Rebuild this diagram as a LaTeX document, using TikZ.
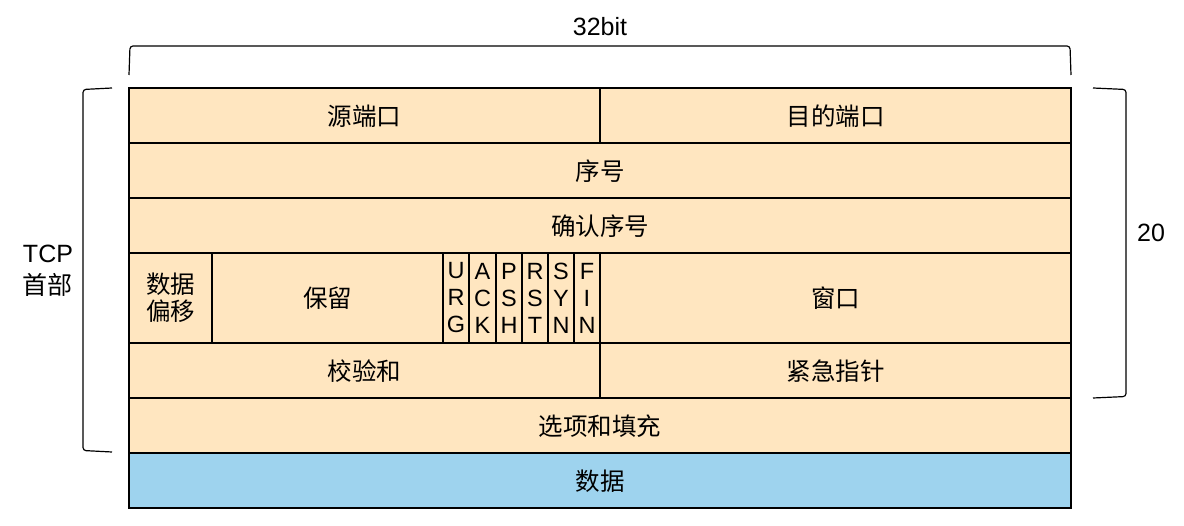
\documentclass[tikz,border=0pt]{standalone}
\usepackage{fontspec}
\setmainfont{Liberation Sans}
\newfontfamily\cjk{Noto Sans CJK SC}
\begin{document}
\begin{tikzpicture}[x=1pt,y=-1pt,
  field/.style={draw=black,line width=1.2pt,fill=hdr},
  datafield/.style={draw=black,line width=1.2pt,fill=dat},
  lbl/.style={font=\fontsize{24.5}{27}\selectfont\cjk,align=center,inner sep=0pt},
  flag/.style={font=\fontsize{23.5}{27}\selectfont,align=center,inner sep=0pt},
  side/.style={font=\fontsize{25}{32}\selectfont,align=center,inner sep=0pt},
  brace/.style={draw=black,line width=1.2pt,rounded corners=3pt}]
\definecolor{hdr}{HTML}{FFE6C0}
\definecolor{dat}{HTML}{9ED3EE}
\useasboundingbox (0,0) rectangle (1184,526);
% rows
\draw[field] (129,88) rectangle (600,143);
\draw[field] (600,88) rectangle (1071,143);
\draw[field] (129,143) rectangle (1071,198);
\draw[field] (129,198) rectangle (1071,253);
\draw[field] (129,253) rectangle (212,343);
\draw[field] (212,253) rectangle (443,343);
\foreach \a/\b in {443/469,469/496,496/522,522/548,548/574,574/600}{
  \draw[field] (\a,253) rectangle (\b,343);}
\draw[field] (600,253) rectangle (1071,343);
\draw[field] (129,343) rectangle (600,398);
\draw[field] (600,343) rectangle (1071,398);
\draw[field] (129,398) rectangle (1071,453);
\draw[datafield] (129,453) rectangle (1071,508);
% labels
\node[lbl] (src) at (364.5,116) {源端口};
\node[lbl] (dst) at (835.5,116) {目的端口};
\node[lbl] (seq) at (600,171) {序号};
\node[lbl] (ack) at (600,226) {确认序号};
\node[lbl] (off) at (170.5,298) {数据\\偏移};
\node[lbl] (res) at (327.5,298) {保留};
\node[flag] (urg) at (456,298) {U\\R\\G};
\node[flag] (fack) at (482.5,298) {A\\C\\K};
\node[flag] (psh) at (509,298) {P\\S\\H};
\node[flag] (rst) at (535,298) {R\\S\\T};
\node[flag] (syn) at (561,298) {S\\Y\\N};
\node[flag] (fin) at (587,298) {F\\I\\N};
\node[lbl] (win) at (835.5,298) {窗口};
\node[lbl] (chk) at (364.5,371) {校验和};
\node[lbl] (urgp) at (835.5,371) {紧急指针};
\node[lbl] (opt) at (600,426) {选项和填充};
\node[lbl] (data) at (600,481) {数据};
% brackets
\draw[brace] (129,75) -- (130,46) -- (1070,46) -- (1071,75);
\draw[brace] (112,88) -- (83,89.5) -- (83,450.5) -- (112,452);
\draw[brace] (1093,88) -- (1126,89.5) -- (1126,396.5) -- (1093,398);
\node[side] (bits) at (600,27) {32bit};
\node[side] (twenty) at (1151,233) {20};
\node[side] (tcp) at (48,271) {TCP\\{\cjk 首部}};
\end{tikzpicture}
\end{document}
